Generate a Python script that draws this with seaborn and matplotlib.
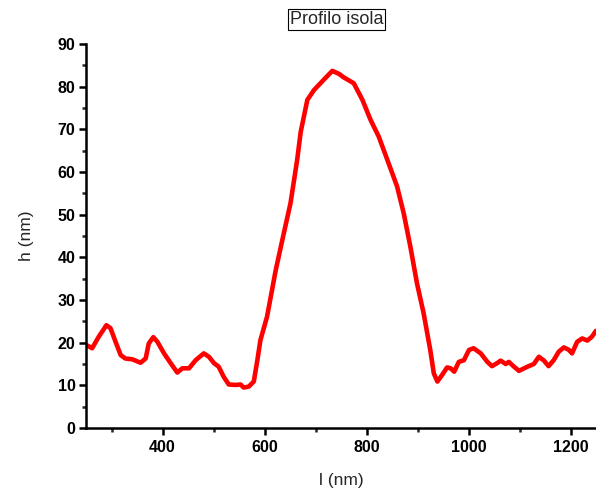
import matplotlib
matplotlib.use("Agg")
import matplotlib.pyplot as plt
import seaborn as sns
import pandas as pd
from matplotlib.ticker import MultipleLocator

# Height profile across the island (lateral position l, height h, both in nm)
l_nm = [250, 262, 275, 290, 298, 308, 318, 327, 341, 357, 367, 373, 382, 390,
        403, 416, 429, 439, 452, 465, 481, 491, 501, 510, 520, 530, 543, 553,
        559, 569, 579, 586, 592, 605, 622, 635, 651, 664, 671, 684, 697, 716,
        733, 746, 755, 775, 792, 808, 824, 841, 860, 873, 886, 899, 912, 925,
        932, 939, 948, 958, 965, 972, 981, 991, 1001, 1010, 1024, 1037, 1046,
        1056, 1063, 1073, 1079, 1089, 1099, 1109, 1118, 1128, 1138, 1148,
        1157, 1167, 1177, 1187, 1197, 1203, 1213, 1223, 1233, 1242, 1250]
h_nm = [19.5, 18.7, 21.4, 24.1, 23.4, 20.2, 17.1, 16.3, 16.1, 15.3, 16.3, 19.8,
        21.3, 20.2, 17.5, 15.2, 13.0, 14.0, 14.0, 15.9, 17.5, 16.7, 15.2, 14.4,
        12.0, 10.2, 10.1, 10.2, 9.5, 9.7, 10.9, 15.9, 20.6, 26.1, 37.0, 44.1,
        52.7, 62.8, 69.4, 76.9, 79.2, 81.6, 83.7, 83.0, 82.2, 80.8, 76.9, 72.2,
        68.3, 62.8, 56.6, 50.3, 42.5, 33.9, 26.9, 18.3, 12.8, 10.9, 12.4, 14.2,
        14.0, 13.2, 15.5, 15.9, 18.3, 18.7, 17.5, 15.5, 14.5, 15.2, 15.8, 15.0,
        15.5, 14.4, 13.4, 14.0, 14.5, 15.0, 16.7, 15.8, 14.5, 15.9, 17.9, 18.9,
        18.3, 17.5, 20.2, 21.0, 20.5, 21.4, 22.8]

title = "Profilo isola"
x_label = "l (nm)"
y_label = "h (nm)"

df = pd.DataFrame({"l": l_nm, "h": h_nm})

sns.set_style("ticks")
plt.rcParams["font.family"] = ["Liberation Sans", "DejaVu Sans"]

fig = plt.figure(figsize=(5.96, 4.92), dpi=100)
ax = fig.add_axes([0.1443, 0.130, 0.8557, 0.7806])

sns.lineplot(data=df, x="l", y="h", ax=ax, color="#ff0000", linewidth=3.3)

ax.set_xlim(250, 1250)
ax.set_ylim(0, 90)
ax.xaxis.set_major_locator(MultipleLocator(200))
ax.xaxis.set_minor_locator(MultipleLocator(100))
ax.yaxis.set_major_locator(MultipleLocator(10))
ax.yaxis.set_minor_locator(MultipleLocator(5))

for side in ("top", "right"):
    ax.spines[side].set_visible(False)
for side in ("left", "bottom"):
    ax.spines[side].set_linewidth(1.8)
    ax.spines[side].set_color("black")

ax.tick_params(axis="both", which="major", direction="out", length=5,
               width=1.8, labelsize=11.5, colors="black")
ax.tick_params(axis="both", which="minor", direction="out", length=3,
               width=1.8)
ax.tick_params(axis="x", which="major", pad=3.5)
ax.tick_params(axis="y", which="major", pad=2.5)
for lbl in ax.get_xticklabels() + ax.get_yticklabels():
    lbl.set_fontweight("bold")

ax.set_xlabel(x_label, fontsize=12.5, labelpad=13)
ax.set_ylabel(y_label, fontsize=12.5, labelpad=17)

fig.text(0.5645, 0.960, title, ha="center", va="center", fontsize=13,
         bbox=dict(boxstyle="square,pad=0.1", facecolor="white",
                   edgecolor="black", linewidth=0.8))

fig.savefig("out.png", dpi=100)
